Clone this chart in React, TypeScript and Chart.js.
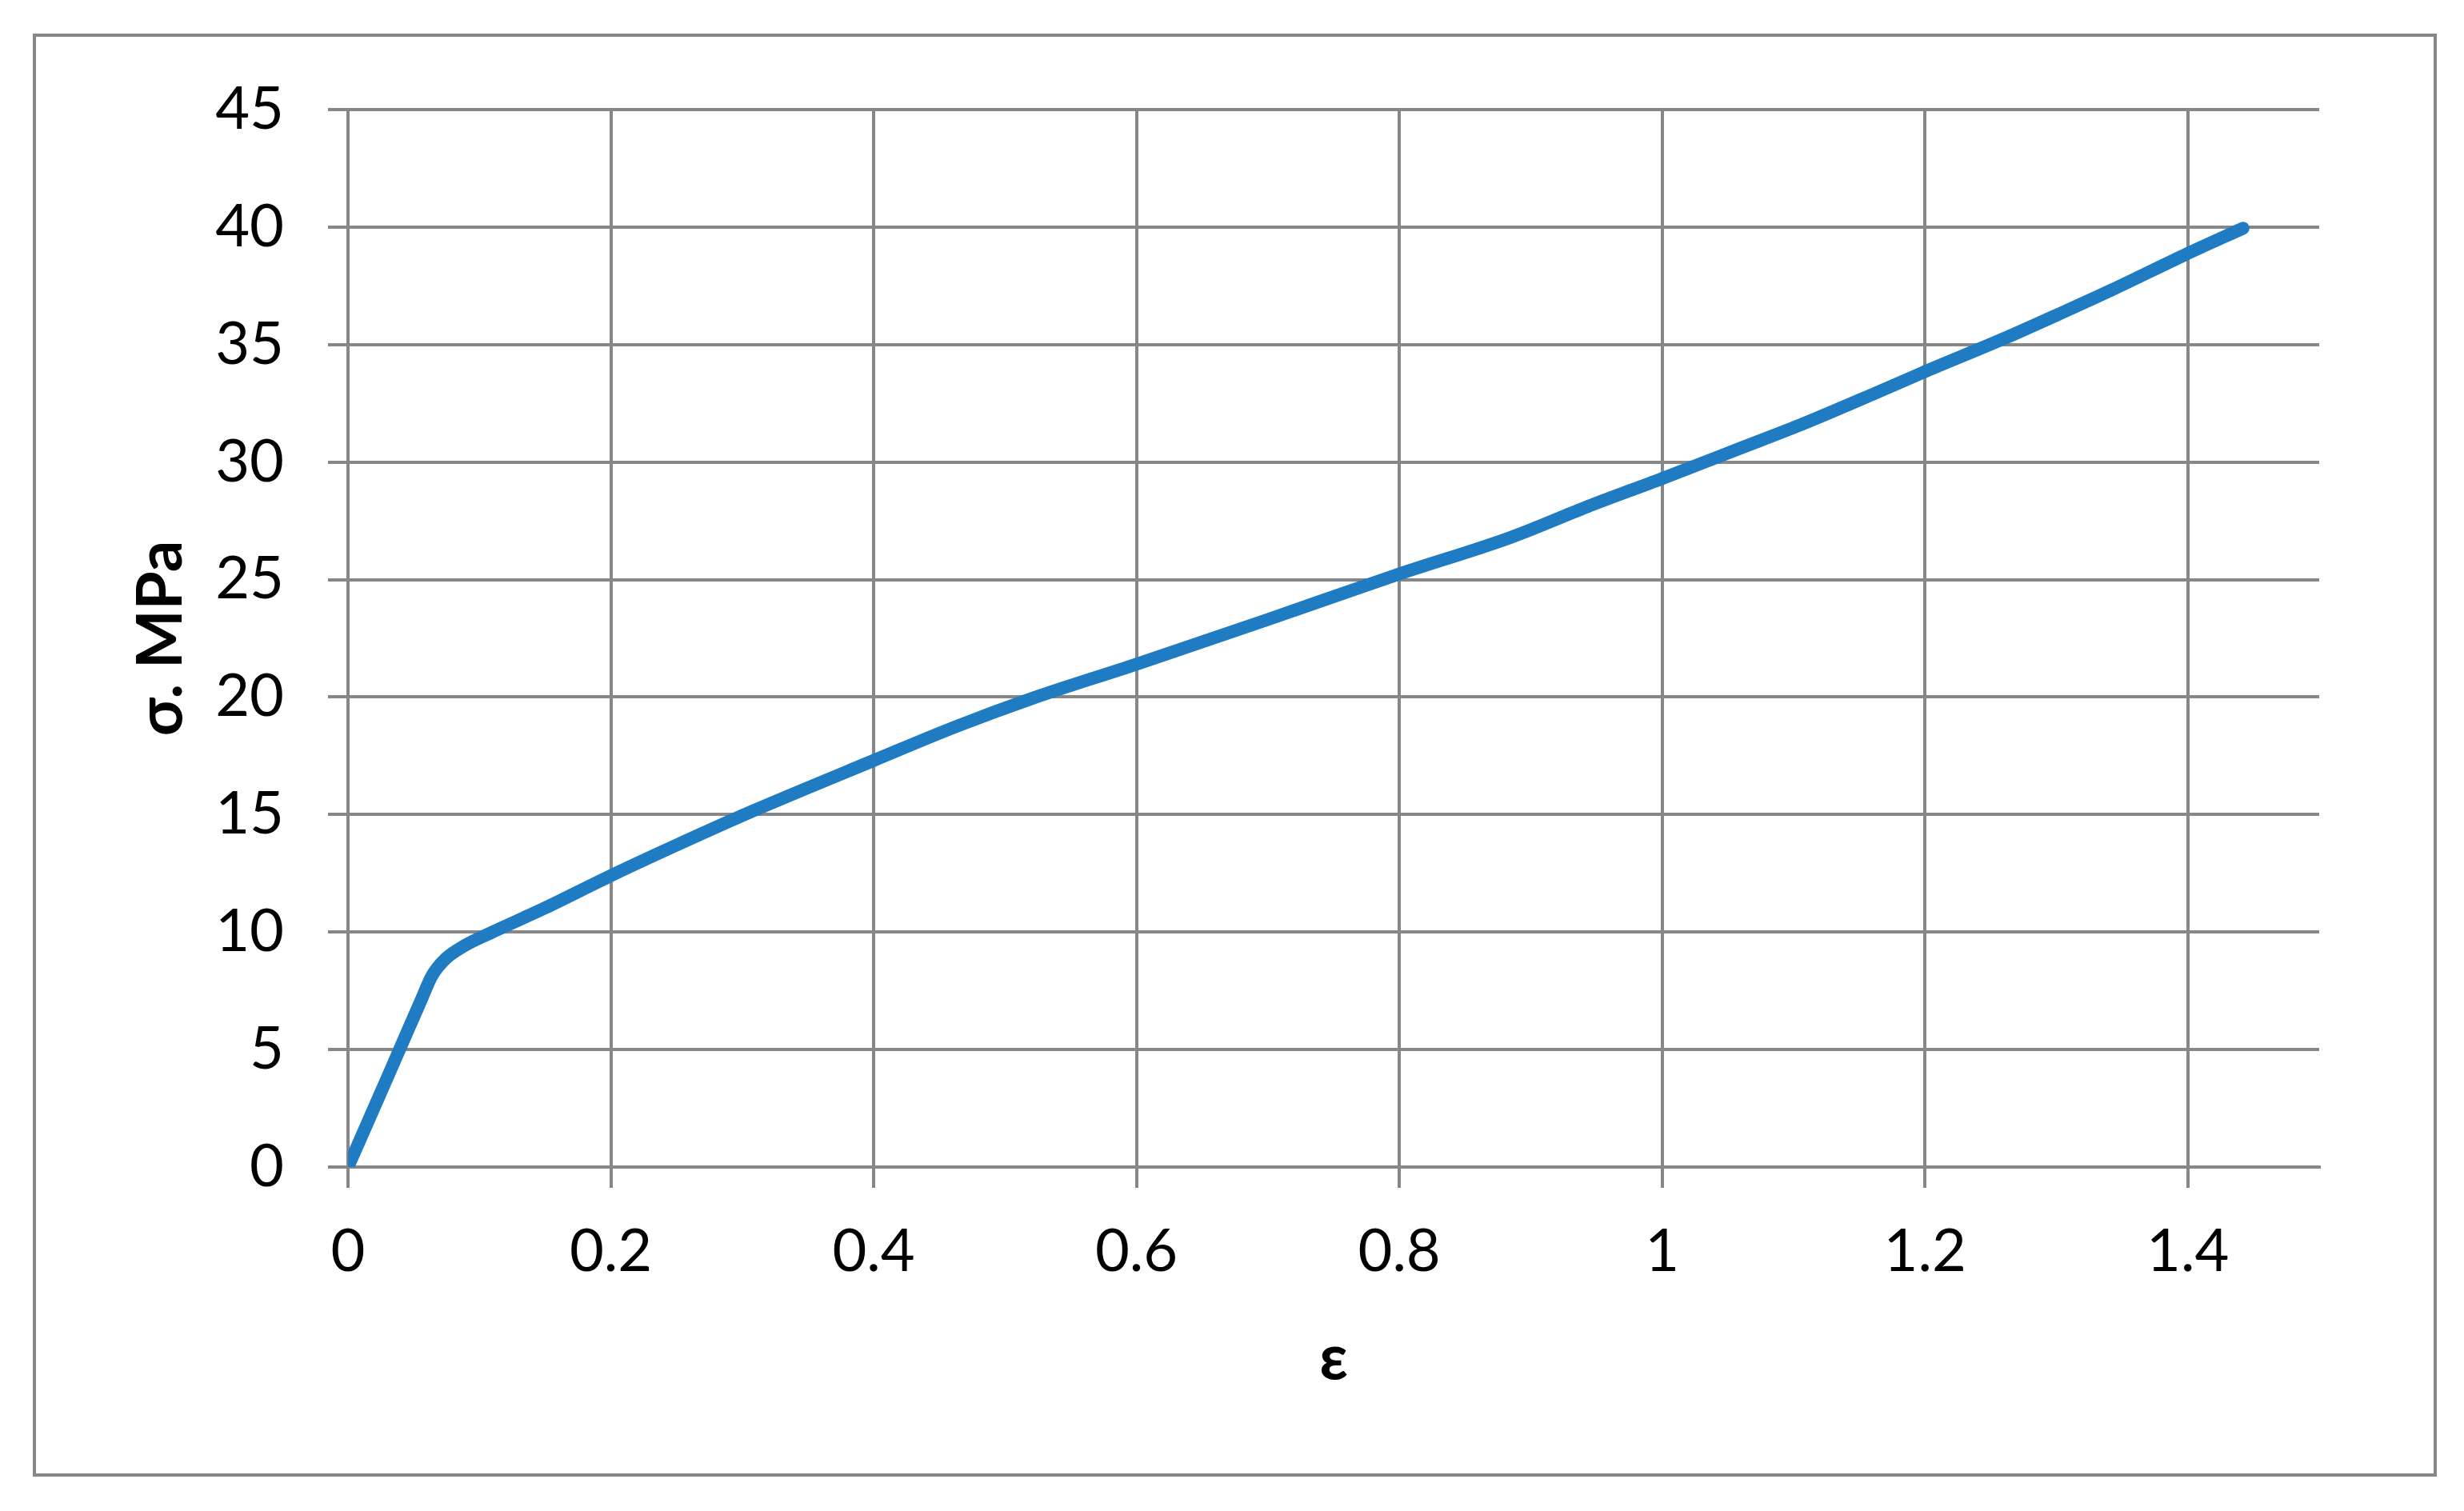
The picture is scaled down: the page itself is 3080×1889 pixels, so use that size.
import React, { useEffect, useRef } from "react";
import { Chart, registerables } from "chart.js";

Chart.register(...registerables);

// strain ε
const strain: number[] = [
  0, 0.033, 0.047, 0.056, 0.064, 0.074, 0.088, 0.108, 0.149, 0.2, 0.25, 0.308,
  0.4, 0.463, 0.521, 0.6, 0.7, 0.8, 0.885, 0.943, 1.0, 1.06, 1.106, 1.163,
  1.198, 1.262, 1.302, 1.343, 1.397, 1.442,
];
// stress σ, MPa
const stress: number[] = [
  0, 4.2, 6.0, 7.15, 8.15, 8.85, 9.4, 9.95, 11.0, 12.4, 13.7, 15.15, 17.3,
  18.75, 19.95, 21.4, 23.3, 25.24, 26.8, 28.1, 29.3, 30.6, 31.6, 32.95, 33.8,
  35.3, 36.3, 37.35, 38.8, 39.95,
];

const xTicks: number[] = [0, 0.2, 0.4, 0.6, 0.8, 1, 1.2, 1.4];
const xTitle = "ε";
const yTitle = "σ. MPa";

const W = 3080;
const H = 1889;
const GRID = "#878787";

const frame = {
  id: "frame",
  beforeDraw(chart: any) {
    const ctx = chart.ctx;
    ctx.save();
    ctx.fillStyle = "#ffffff";
    ctx.fillRect(0, 0, chart.width, chart.height);
    ctx.strokeStyle = GRID;
    ctx.lineWidth = 4;
    ctx.strokeRect(43, 44, 3044 - 43, 1844 - 44);
    ctx.restore();
  },
};

export default function App() {
  const ref = useRef<HTMLCanvasElement | null>(null);

  useEffect(() => {
    if (!ref.current) return;
    const points = strain.map((x, i) => ({ x, y: stress[i] }));
    const chart = new Chart(ref.current, {
      type: "line",
      data: {
        datasets: [
          {
            data: points,
            borderColor: "#1f7bc2",
            borderWidth: 16,
            borderCapStyle: "round",
            borderJoinStyle: "round",
            pointRadius: 0,
            fill: false,
            cubicInterpolationMode: "monotone",
          },
        ],
      },
      options: {
        animation: false,
        responsive: false,
        maintainAspectRatio: false,
        layout: { padding: { top: 137, right: 181, left: 0, bottom: 0 } },
        plugins: { legend: { display: false }, tooltip: { enabled: false } },
        scales: {
          x: {
            type: "linear",
            min: 0,
            max: 1.5,
            afterFit: (s: any) => {
              s.height = 430;
            },
            afterBuildTicks: (s: any) => {
              s.ticks = xTicks.map((v) => ({ value: v }));
            },
            ticks: {
              includeBounds: false,
              color: "#000",
              padding: 36,
              maxRotation: 0,
              autoSkip: false,
              callback: (v: any) => String(Math.round(Number(v) * 10) / 10),
              font: { family: "Lato", size: 74 },
            },
            grid: { color: GRID, lineWidth: 4, tickLength: 26, drawTicks: true },
            border: { display: true, color: GRID, width: 4 },
            title: {
              display: true,
              text: xTitle,
              color: "#000",
              font: { family: "Lato", size: 78, weight: "bold" },
              padding: { top: 0, bottom: 143 },
            },
          },
          y: {
            type: "linear",
            min: 0,
            max: 45,
            afterFit: (s: any) => {
              s.width = 435;
            },
            ticks: {
              stepSize: 5,
              color: "#000",
              padding: 55,
              font: { family: "Lato", size: 74 },
            },
            grid: { color: GRID, lineWidth: 4, tickLength: 25, drawTicks: true },
            border: { display: true, color: GRID, width: 4 },
            title: {
              display: true,
              text: yTitle,
              color: "#000",
              font: { family: "Lato", size: 78, weight: "bold" },
              padding: { top: 155, bottom: 0 },
            },
          },
        },
      },
      plugins: [frame],
    });
    return () => chart.destroy();
  }, []);

  return (
    <div style={{ position: "fixed", left: 0, top: 0, width: W, height: H, background: "#fff" }}>
      <canvas ref={ref} width={W} height={H} style={{ width: W, height: H, display: "block" }} />
    </div>
  );
}
